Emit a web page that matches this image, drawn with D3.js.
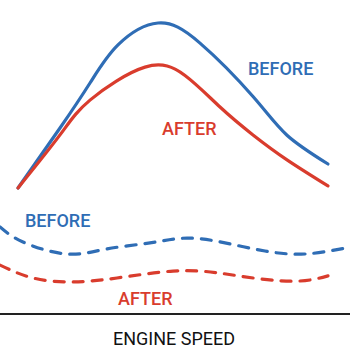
<!DOCTYPE html>
<html>
<head>
<meta charset="utf-8">
<script src="https://cdn.jsdelivr.net/npm/d3@7"></script>
<style>
  html, body { margin: 0; padding: 0; background: #fff; }
  svg { display: block; }
</style>
</head>
<body>
<svg id="chart" width="350" height="350"></svg>
<script>
// Engine speed (rpm) and relative values
const solidBeforeSpeed = [360, 1200, 1800, 2360, 3160, 4000, 5060, 5740, 6560];
const solidBefore      = [42, 62, 77, 89.7, 97, 90.3, 72.5, 59.6, 50];
const solidAfterSpeed  = [360, 1200, 1800, 2900, 3700, 4400, 5060, 5740, 6560];
const solidAfter       = [42, 59.7, 71.3, 82.3, 79.5, 69, 59.7, 51.4, 42.7];
const dashBeforeSpeed  = [0, 460, 1340, 2140, 3000, 3740, 4500, 5300, 6100, 7000];
const dashBefore       = [29, 24, 20, 21.7, 23.7, 25.3, 23.7, 21, 20, 22.3];
const dashAfterSpeed   = [0, 660, 1460, 2340, 3460, 4360, 5200, 6000, 6560];
const dashAfter        = [16.3, 12, 10.7, 12, 14.3, 13.7, 11.7, 11, 12.7];
const axisTitle = "ENGINE SPEED";
const labels = ["BEFORE", "AFTER", "BEFORE", "AFTER"];

const BLUE = "#2f6db5", RED = "#d93c2d";

const svg = d3.select("#chart");
const x = d3.scaleLinear().domain([0, 7000]).range([0, 350]);
const y = d3.scaleLinear().domain([0, 100]).range([314, 14]);

const line = d3.line().x(d => x(d[0])).y(d => y(d[1])).curve(d3.curveNatural);
const zip = (a, b) => a.map((v, i) => [v, b[i]]);

function draw(sp, vals, color, dashed) {
  svg.append("path")
    .attr("d", line(zip(sp, vals)))
    .attr("fill", "none")
    .attr("stroke", color)
    .attr("stroke-width", 3.2)
    .attr("stroke-linecap", "round")
    .attr("stroke-dasharray", dashed ? "10,9" : null);
}
draw(solidBeforeSpeed, solidBefore, BLUE, false);
draw(solidAfterSpeed, solidAfter, RED, false);
draw(dashBeforeSpeed, dashBefore, BLUE, true);
draw(dashAfterSpeed, dashAfter, RED, true);

// x axis line
svg.append("line").attr("x1", 0).attr("x2", 350).attr("y1", y(0)).attr("y2", y(0))
  .attr("stroke", "#222").attr("stroke-width", 2);

const font = "Roboto, 'Open Sans', sans-serif";
function label(t, px, py, color, weight, anchor) {
  svg.append("text").attr("x", px).attr("y", py).text(t)
    .attr("fill", color).attr("font-family", font).attr("font-size", 18)
    .attr("font-weight", weight).attr("text-anchor", anchor || "start");
}
label(labels[0], 248, 75, BLUE, 500);
label(labels[1], 162, 135, RED, 500);
label(labels[2], 25, 227, BLUE, 500);
label(labels[3], 118, 305, RED, 500);
label(axisTitle, 174, 345, "#111", 400, "middle");
</script>
</body>
</html>
